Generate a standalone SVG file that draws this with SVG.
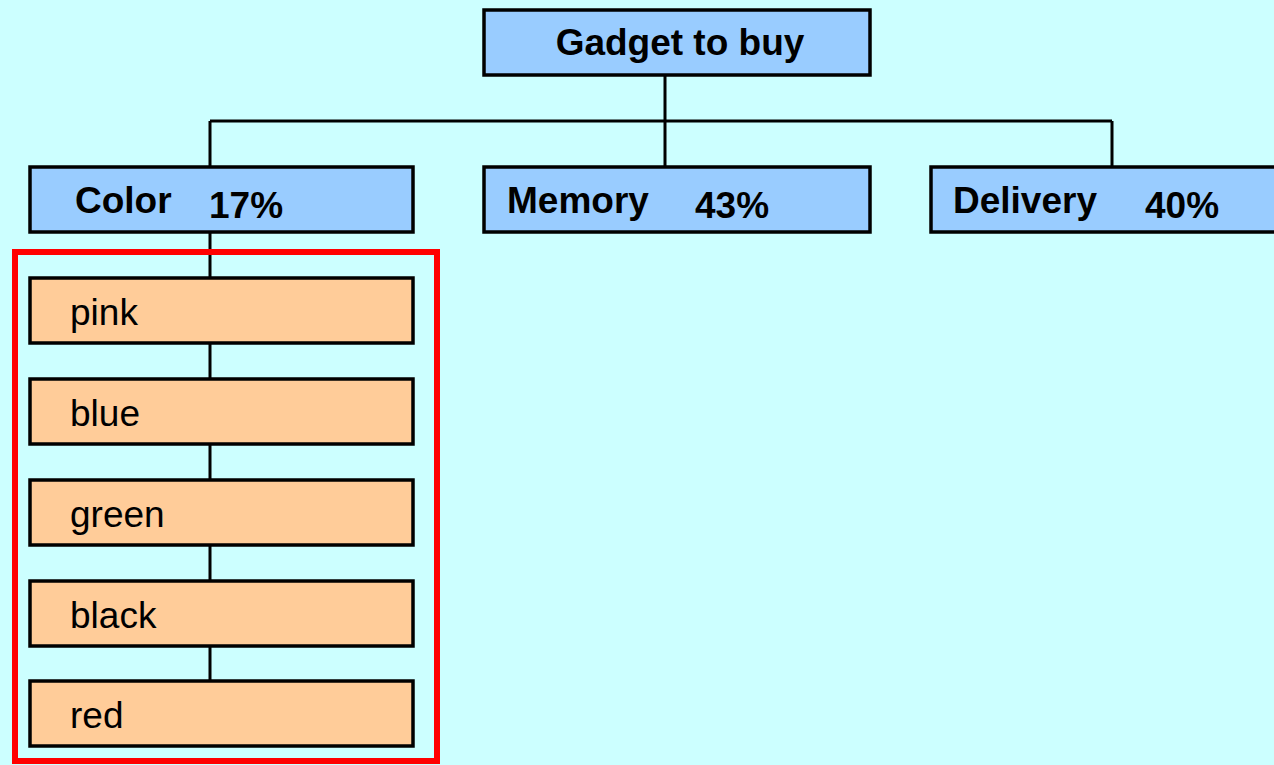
<svg xmlns="http://www.w3.org/2000/svg" width="1274" height="765" viewBox="0 0 1274 765">
  <style>
    .box { stroke: #000; stroke-width: 3.5; }
    .cat { fill: #99ccff; }
    .opt { fill: #ffcc99; }
    .t { font-family: "Liberation Sans", Arial, sans-serif; font-size: 37px; fill: #000; }
    .b { font-weight: bold; }
    .wire { stroke: #000; stroke-width: 3; fill: none; }
  </style>
  <rect width="1274" height="765" fill="#ccffff"/>

  <!-- tree connectors -->
  <g id="connectors">
    <path class="wire" d="M665,75 V121 M210,121 H1112 M210,121 V167 M665,121 V167 M1112,121 V167"/>
    <path class="wire" d="M210,232 V278 M210,343 V379 M210,444 V480 M210,545 V581 M210,646 V681"/>
  </g>

  <!-- selection frame around colour options -->
  <rect id="selection" x="15" y="252" width="422" height="509" fill="none" stroke="#ff0000" stroke-width="6"/>

  <g id="root">
    <rect class="box cat" x="484" y="10" width="386" height="65"/>
    <text class="t b" x="680" y="55" text-anchor="middle">Gadget to buy</text>
  </g>

  <g id="color">
    <rect class="box cat" x="30" y="167" width="383" height="65"/>
    <text class="t b" x="75" y="213">Color</text>
    <text class="t b" x="209" y="218">17%</text>
  </g>
  <g id="memory">
    <rect class="box cat" x="484" y="167" width="386" height="65"/>
    <text class="t b" x="507" y="213">Memory</text>
    <text class="t b" x="695" y="218">43%</text>
  </g>
  <g id="delivery">
    <rect class="box cat" x="931" y="167" width="386" height="65"/>
    <text class="t b" x="953" y="213">Delivery</text>
    <text class="t b" x="1145" y="218">40%</text>
  </g>

  <g id="pink">
    <rect class="box opt" x="30" y="278" width="383" height="65"/>
    <text class="t" x="70" y="325">pink</text>
  </g>
  <g id="blue">
    <rect class="box opt" x="30" y="379" width="383" height="65"/>
    <text class="t" x="70" y="426">blue</text>
  </g>
  <g id="green">
    <rect class="box opt" x="30" y="480" width="383" height="65"/>
    <text class="t" x="70" y="527">green</text>
  </g>
  <g id="black">
    <rect class="box opt" x="30" y="581" width="383" height="65"/>
    <text class="t" x="70" y="628">black</text>
  </g>
  <g id="red">
    <rect class="box opt" x="30" y="681" width="383" height="65"/>
    <text class="t" x="70" y="728">red</text>
  </g>
</svg>
